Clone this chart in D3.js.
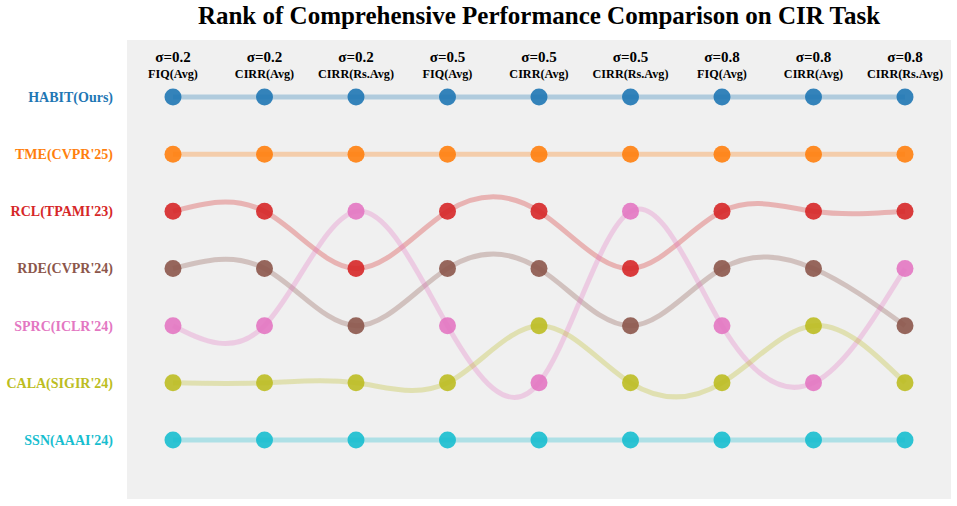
<!DOCTYPE html>
<html>
<head>
<meta charset="utf-8">
<script src="https://cdn.jsdelivr.net/npm/d3@7"></script>
<style>
  body { margin: 0; background: #fff; }
  text { font-family: "Liberation Serif", "Times New Roman", serif; font-weight: bold; }
</style>
</head>
<body>
<div id="chart"></div>
<script>
// Column headers (noise level + metric)
const sigmas = ['σ=0.2', 'σ=0.2', 'σ=0.2', 'σ=0.5', 'σ=0.5', 'σ=0.5', 'σ=0.8', 'σ=0.8', 'σ=0.8'];
const metrics = ['FIQ(Avg)', 'CIRR(Avg)', 'CIRR(Rs.Avg)', 'FIQ(Avg)', 'CIRR(Avg)', 'CIRR(Rs.Avg)', 'FIQ(Avg)', 'CIRR(Avg)', 'CIRR(Rs.Avg)'];

// Methods, in label order, with their tab10 colours
const methods = ['HABIT(Ours)', 'TME(CVPR\'25)', 'RCL(TPAMI\'23)', 'RDE(CVPR\'24)', 'SPRC(ICLR\'24)', 'CALA(SIGIR\'24)', 'SSN(AAAI\'24)'];
const colors = ['#1f77b4', '#ff7f0e', '#d62728', '#8c564b', '#e377c2', '#bcbd22', '#17becf'];

// Rank of each method per column
const habitRank = [1, 1, 1, 1, 1, 1, 1, 1, 1];
const tmeRank   = [2, 2, 2, 2, 2, 2, 2, 2, 2];
const rclRank   = [3, 3, 4, 3, 3, 4, 3, 3, 3];
const rdeRank   = [4, 4, 5, 4, 4, 5, 4, 4, 5];
const sprcRank  = [5, 5, 3, 5, 6, 3, 5, 6, 4];
const calaRank  = [6, 6, 6, 6, 5, 6, 6, 5, 6];
const ssnRank   = [7, 7, 7, 7, 7, 7, 7, 7, 7];
const ranks = [habitRank, tmeRank, rclRank, rdeRank, sprcRank, calaRank, ssnRank];

const width = 957, height = 506;
const plot = {left: 127, right: 951, top: 40, bottom: 499};

const svg = d3.select('#chart')
  .append('svg')
    .attr('width', width)
    .attr('height', height);

svg.append('rect')
  .attr('x', plot.left)
  .attr('y', plot.top)
  .attr('width', plot.right - plot.left)
  .attr('height', plot.bottom - plot.top)
  .attr('fill', '#f0f0f0');

let x = d3.scalePoint()
  .domain(d3.range(sigmas.length))
  .range([173, 905]);

let y = d3.scaleLinear()
  .domain([1, 7])
  .range([97, 440]);

svg.append('text')
  .attr('x', (plot.left + plot.right) / 2)
  .attr('y', 24)
  .attr('text-anchor', 'middle')
  .style('font-size', '25px')
  .text('Rank of Comprehensive Performance Comparison on CIR Task');

// column headers
let heads = svg.append('g').selectAll('g')
  .data(sigmas)
  .enter().append('g')
  .attr('transform', (d, i) => 'translate(' + x(i) + ',0)');

heads.append('text')
  .attr('y', 62)
  .attr('text-anchor', 'middle')
  .style('font-size', '15px')
  .text((d) => d);

heads.append('text')
  .attr('y', 78)
  .attr('text-anchor', 'middle')
  .style('font-size', '12.2px')
  .text((d, i) => metrics[i]);

// method labels on the left
svg.append('g').selectAll('text')
  .data(methods)
  .enter().append('text')
  .attr('x', 113)
  .attr('y', (d, i) => y(ranks[i][0]))
  .attr('dy', '0.35em')
  .attr('text-anchor', 'end')
  .style('font-size', '14px')
  .attr('fill', (d, i) => colors[i])
  .text((d) => d);

let line = d3.line()
  .x((d, i) => x(i))
  .y((d) => y(d))
  .curve(d3.curveNatural);

svg.append('g').selectAll('path')
  .data(ranks)
  .enter().append('path')
  .attr('fill', 'none')
  .attr('stroke', (d, i) => colors[i])
  .attr('stroke-opacity', 0.3)
  .attr('stroke-width', 5)
  .attr('d', line);

ranks.forEach((r, m) => {
  svg.append('g').selectAll('circle')
    .data(r)
    .enter().append('circle')
    .attr('cx', (d, i) => x(i))
    .attr('cy', (d) => y(d))
    .attr('r', 8.5)
    .attr('fill', colors[m])
    .attr('fill-opacity', 0.9);
});
</script>
</body>
</html>
